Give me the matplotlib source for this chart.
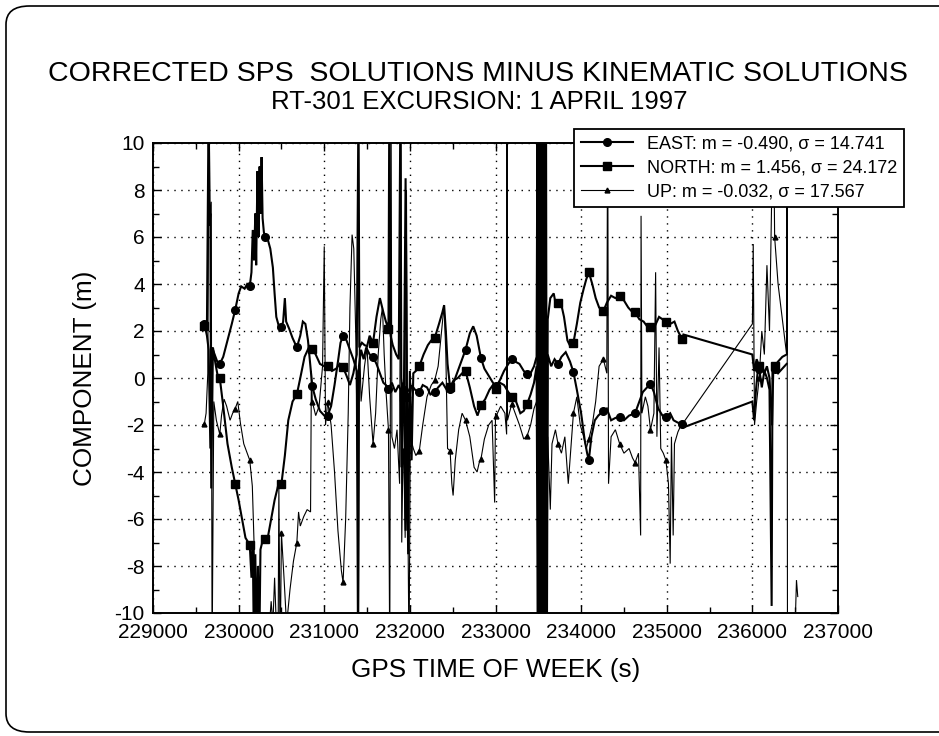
import numpy as np
import matplotlib
matplotlib.use("Agg")
import matplotlib.pyplot as plt
from matplotlib.patches import FancyBboxPatch
from matplotlib.ticker import MultipleLocator

plt.rcParams['font.family'] = ['Liberation Sans', 'DejaVu Sans']
plt.rcParams['axes.unicode_minus'] = False

# ---------------- data (GPS time of week [s], component [m]) ----------------
east_pts = [
    (229580, 2.1), (229600, 2.3), (229630, 1.8), (229650, 1.2), (229670, -3.0), (229690, 1.3),
    (229720, 1.0), (229750, 0.7), (229780, 0.6), (229820, 0.9), (229870, 1.6), (229920, 2.3),
    (229960, 2.9), (230000, 3.6), (230030, 3.9), (230070, 3.8), (230100, 4.0), (230130, 3.9),
    (230150, 4.5), (230165, 6.3), (230180, 5.0), (230195, 7.0), (230205, 4.8), (230220, 8.8),
    (230232, 6.0), (230245, 9.0), (230258, 7.0), (230268, 9.4), (230280, 6.8), (230295, 6.2),
    (230310, 6.0), (230340, 5.9), (230370, 5.5), (230400, 4.7), (230420, 3.6), (230440, 2.6),
    (230470, 2.2), (230500, 2.15), (230520, 2.4), (230540, 3.4), (230555, 2.4), (230590, 2.1),
    (230630, 1.7), (230680, 1.3), (230720, 1.8), (230750, 2.4), (230780, 2.3), (230810, 1.6),
    (230840, 0.4), (230860, -0.35), (230900, -0.9), (230950, -1.4), (231000, -1.6), (231040, -1.6),
    (231080, -1.2), (231120, -0.3), (231160, 0.7), (231190, 1.5), (231220, 1.8), (231260, 1.6),
    (231300, 1.2), (231340, 0.8), (231380, 0.3), (231395, -12.0), (231405, 0.5), (231430, 1.2),
    (231460, 0.8), (231490, 1.3), (231530, 1.0), (231570, 0.9), (231610, 0.6), (231650, 0.2),
    (231690, -0.2), (231720, -0.3), (231750, -0.45), (231790, -0.2), (231830, -0.6), (231870, -0.3),
    (231890, -0.5), (231905, -3.8), (231915, -0.2), (231930, -0.5), (231950, -6.5), (231960, -1.0),
    (231980, -7.5), (231995, -0.8), (232020, -0.3), (232060, -0.5), (232110, -0.6), (232150, -0.3),
    (232200, -0.4), (232240, -0.7), (232290, -0.6), (232330, -0.4), (232380, -0.2), (232430, -0.5),
    (232470, -0.45), (232510, -0.2), (232560, 0.3), (232610, 0.8), (232650, 1.2), (232700, 1.9),
    (232740, 2.2), (232780, 1.8), (232830, 0.85), (232870, 0.4), (232920, 0.1), (232970, -0.2),
    (233010, -0.35), (233050, -0.1), (233100, 0.3), (233150, 0.6), (233190, 0.8), (233230, 0.7),
    (233280, 0.6), (233330, 0.3), (233370, 0.17), (233410, 0.2), (233450, 0.5), (233480, 0.9),
    (233490, 12), (233500, -12), (233510, 12), (233520, -12), (233530, 12), (233540, -12),
    (233550, 12), (233560, -12), (233570, 12), (233580, -12), (233590, 12), (233600, -12),
    (233610, 1.0), (233650, 0.5), (233690, 0.8), (233730, 0.6), (233770, 0.9), (233820, 1.1),
    (233870, 0.7), (233910, 0.25), (233950, -0.5), (234000, -1.5), (234040, -2.6), (234070, -3.2),
    (234090, -3.5), (234120, -2.5), (234160, -1.8), (234200, -1.6), (234230, -1.5), (234260, -1.4),
    (234300, -1.3), (234350, -1.8), (234400, -1.7), (234450, -1.65), (234500, -1.8), (234560, -1.6),
    (234630, -1.5), (234680, -1.0), (234720, -0.6), (234770, -0.4), (234810, -0.25), (234850, -0.6),
    (234900, -1.3), (234950, -1.6), (234990, -1.65), (235040, -1.5), (235080, -1.8), (235130, -1.9),
    (235180, -1.95), (235195, -2.1), (236000, -1.0), (236020, -1.8), (236040, -0.6), (236060, 0.2),
    (236080, 0.4), (236110, -0.4), (236140, 0.3), (236170, 0.0), (236200, -0.5), (236225, -9.7),
    (236235, 0.5), (236260, 0.4), (236300, 0.2), (236350, 0.4), (236400, 0.6),
]

north_pts = [
    (229580, 2.1), (229600, 2.2), (229630, 2.3), (229650, 12), (229660, 6.5), (229670, 7.0),
    (229680, -4.7), (229700, 1.3), (229730, 0.6), (229760, 0.0), (229780, 0.0), (229820, -1.2),
    (229870, -2.8), (229920, -3.8), (229960, -4.5), (230000, -5.2), (230040, -6.0), (230080, -6.8),
    (230130, -7.1), (230150, -8.5), (230165, -7.0), (230180, -12), (230195, -7.5), (230210, -12),
    (230225, -8.0), (230240, -12), (230255, -7.3), (230275, -7.0), (230310, -6.85), (230340, -6.8),
    (230380, -6.0), (230420, -5.2), (230460, -4.6), (230500, -4.5), (230540, -3.3), (230580, -1.8),
    (230630, -1.0), (230680, -0.7), (230720, 0.0), (230770, 0.9), (230820, 1.3), (230860, 1.25),
    (230900, 1.0), (230950, 0.6), (231000, 0.5), (231040, 0.5), (231090, 0.3), (231140, 0.4),
    (231180, 0.6), (231220, 0.45), (231260, 0.1), (231300, -0.3), (231340, 0.2), (231380, 1.0),
    (231400, 12), (231410, 1.3), (231440, 1.5), (231470, 1.4), (231500, 1.35), (231530, 1.8),
    (231570, 1.5), (231610, 2.6), (231650, 3.4), (231690, 2.8), (231720, 2.4), (231750, 2.1),
    (231760, 12), (231775, 1.8), (231800, 1.4), (231840, 1.0), (231870, 0.8), (231890, 12),
    (231900, 0.0), (231920, -1.0), (231930, -0.8), (231950, 8.5), (231965, -0.5), (231985, -4.0),
    (232000, 0.3), (232020, -3.5), (232040, 0.2), (232070, 0.3), (232110, 0.5), (232160, 1.0),
    (232210, 1.4), (232250, 1.6), (232290, 1.7), (232340, 2.3), (232380, 2.8), (232400, 3.1),
    (232420, 2.0), (232440, 0.6), (232470, -0.4), (232510, -0.1), (232560, 0.0), (232610, 0.2),
    (232650, 0.3), (232700, -0.4), (232750, -1.2), (232790, -1.6), (232830, -1.15), (232880, -0.9),
    (232930, -0.5), (232970, -0.3), (233010, -0.45), (233050, -0.2), (233100, -0.3), (233150, -0.6),
    (233190, -0.8), (233240, -1.0), (233290, -1.5), (233330, -1.4), (233370, -1.1), (233410, -0.7),
    (233450, -0.2), (233480, 0.5), (233495, -12), (233505, 12), (233515, -12), (233525, 12),
    (233535, -12), (233545, 12), (233555, -12), (233565, 12), (233575, -12), (233585, 12),
    (233595, -12), (233610, 2.5), (233640, 3.4), (233680, 3.6), (233710, 3.0), (233730, 3.2),
    (233770, 3.1), (233800, 2.6), (233840, 1.6), (233880, 1.3), (233910, 1.5), (233950, 2.3),
    (233990, 3.2), (234030, 3.8), (234060, 4.2), (234090, 4.5), (234130, 4.0), (234170, 3.4),
    (234210, 3.0), (234260, 2.85), (234300, 3.2), (234350, 3.5), (234400, 3.4), (234450, 3.5),
    (234500, 3.3), (234550, 3.0), (234600, 2.8), (234630, 2.8), (234680, 2.5), (234730, 2.4),
    (234770, 2.2), (234810, 2.15), (234860, 2.2), (234910, 2.6), (234950, 2.5), (234990, 2.4),
    (235040, 2.3), (235090, 2.4), (235130, 2.0), (235180, 1.65), (235195, 1.85), (236000, 1.0),
    (236020, 0.3), (236050, 0.8), (236080, 0.5), (236110, 0.6), (236140, 0.2), (236170, 0.5),
    (236200, 0.0), (236230, -2.0), (236245, 0.5), (236260, 0.5), (236300, 0.7), (236350, 0.9),
    (236400, 1.0),
]

up_pts = [
    (229580, -2.0), (229600, -1.95), (229620, -1.5), (229640, 0.2), (229655, 12), (229665, 6.8),
    (229680, 7.5), (229690, -12), (229710, -1.0), (229740, -1.8), (229780, -2.4), (229800, -1.6),
    (229830, -0.9), (229860, -1.2), (229900, -1.8), (229930, -1.5), (229960, -1.3), (229990, -1.0),
    (230020, -1.9), (230060, -2.8), (230100, -3.2), (230130, -3.5), (230160, -4.6), (230180, -7.0),
    (230200, -10.5), (230220, -8.5), (230240, -12), (230260, -11), (230300, -12), (230310, -12),
    (230350, -11), (230380, -9.5), (230400, -10.5), (230420, -8.5), (230440, -10.5), (230460, -12),
    (230470, -4.6), (230485, -12), (230500, -6.6), (230530, -8.5), (230560, -10.5), (230600, -9.0),
    (230640, -7.8), (230680, -7.0), (230700, -5.7), (230720, -6.3), (230760, -5.9), (230800, -5.6),
    (230840, -5.7), (230850, 0.3), (230860, -1.0), (230900, -1.6), (230940, -1.2), (230980, 0.5),
    (231000, 5.6), (231015, -2.0), (231040, -1.0), (231080, -2.0), (231120, -4.0), (231160, -6.5),
    (231200, -8.2), (231220, -8.7), (231250, -6.0), (231280, -1.5), (231300, 3.0), (231325, 6.1),
    (231345, 5.5), (231370, 1.5), (231390, -4.5), (231398, -12), (231410, 2.0), (231430, -1.0),
    (231470, 0.5), (231500, 1.3), (231530, -0.8), (231570, -2.8), (231600, -1.5), (231630, 1.0),
    (231660, 2.5), (231680, 3.0), (231700, 1.0), (231720, -0.5), (231750, -2.2), (231765, -12),
    (231780, 12), (231790, -2.5), (231820, -3.0), (231850, -2.2), (231880, -4.5), (231895, 12),
    (231905, -7.0), (231920, -3.0), (231930, -3.5), (231945, -6.8), (231960, 8.0), (231975, -5.0),
    (231990, -12), (232005, -2.5), (232040, -3.0), (232070, -3.3), (232110, -3.1), (232150, -2.0),
    (232200, -0.8), (232250, -0.3), (232290, -0.1), (232330, 0.5), (232370, 2.0), (232400, 3.1),
    (232420, 1.0), (232440, -3.0), (232470, -3.1), (232490, -4.5), (232505, -5.0), (232530, -3.5),
    (232570, -2.2), (232610, -1.5), (232650, -1.8), (232700, -2.5), (232750, -3.8), (232785, -4.0),
    (232810, -3.6), (232830, -3.45), (232870, -2.6), (232920, -2.0), (232960, -1.8), (232990, -5.3),
    (233000, -1.5), (233010, -1.6), (233060, -1.2), (233110, -1.5), (233130, -2.4), (233135, 12),
    (233140, -1.8), (233190, -1.1), (233230, -1.5), (233280, -2.0), (233330, -2.6), (233370, -2.45),
    (233410, -2.0), (233450, -1.3), (233480, -1.0), (233500, 12), (233590, -12), (233610, -2.5),
    (233640, -5.6), (233660, -2.8), (233700, -2.2), (233730, -2.8), (233770, -3.2), (233810, -2.5),
    (233850, -4.5), (233880, -3.0), (233910, -1.5), (233950, -0.8), (233990, -2.0), (234030, -2.5),
    (234060, -3.0), (234090, -2.6), (234130, -2.0), (234170, -1.0), (234210, 0.5), (234260, 0.8),
    (234300, 0.2), (234310, 12), (234320, -4.5), (234350, -2.5), (234400, -2.2), (234450, -2.8),
    (234500, -3.2), (234560, -3.0), (234600, -3.4), (234630, -3.6), (234670, -3.2), (234695, -6.7),
    (234700, 6.9), (234710, -1.5), (234750, -0.8), (234780, -1.2), (234810, -2.2), (234850, -1.5),
    (234870, 4.5), (234885, -2.5), (234910, 1.3), (234930, -3.0), (234960, -3.2), (234990, -3.5),
    (235020, -4.5), (235040, -7.9), (235055, -2.5), (235075, -6.7), (235090, -2.8), (235130, -2.3),
    (235180, -1.9), (235195, -1.9), (236000, 2.3), (236010, 5.7), (236025, -2.0), (236050, -1.0),
    (236080, 0.0), (236110, 2.0), (236140, 1.0), (236170, 4.8), (236200, 2.0), (236245, 12),
    (236260, 6.0), (236300, 4.0), (236350, 2.5), (236400, 1.0), (236405, 12), (236410, -12),
    (236500, -10.5), (236515, -8.6), (236530, -9.3),
]

# epochs at which the plotting program drew a symbol
mark_t = [229600, 229780, 229960, 230130, 230310, 230500, 230680, 230860, 231040, 231220,
          231570, 231750, 231930, 232110, 232290, 232470, 232650, 232830, 233010, 233190,
          233370, 233730, 233910, 234090, 234260, 234450, 234630, 234810, 234990, 235180,
          236080, 236260]

labels = ["EAST: m = -0.490, \u03c3 = 14.741",
          "NORTH: m = 1.456, \u03c3 = 24.172",
          "UP: m = -0.032, \u03c3 = 17.567"]

x_ticks = [229000, 230000, 231000, 232000, 233000, 234000, 235000, 236000, 237000]
y_ticks = [-10, -8, -6, -4, -2, 0, 2, 4, 6, 8, 10]

# ---------------- figure ----------------
W, H = 939, 736
fig = plt.figure(figsize=(W / 100, H / 100), dpi=100)

# rounded page border
border = FancyBboxPatch((6 / W, 4 / H), 960 / W, (H - 10) / H,
                        boxstyle="round,pad=0,rounding_size=0.025",
                        transform=fig.transFigure, fill=False, edgecolor='black',
                        linewidth=1.2, clip_on=False)
fig.patches.append(border)

ax = fig.add_axes([153 / W, 1 - 613 / H, 685 / W, 470 / H])

styles = [
    (east_pts, 'o', 5.5, 1.5),
    (north_pts, 's', 5.5, 1.5),
    (up_pts, '^', 3.5, 0.8),
]
for (pts, mk, ms, lw), lab in zip(styles, labels):
    arr = np.array(pts, dtype=float)
    t, v = arr[:, 0], arr[:, 1]
    ax.plot(t, v, color='black', lw=lw, marker=mk, ms=ms,
            markevery=np.isin(t, mark_t), mfc='black', mec='black', label=lab,
            solid_joinstyle='miter')

ax.set_xlim(229000, 237000)
ax.set_ylim(-10, 10)
ax.set_xticks(x_ticks)
ax.set_xticklabels([str(x) for x in x_ticks])
ax.set_yticks(y_ticks)
ax.set_yticklabels([str(y) for y in y_ticks])
ax.xaxis.set_minor_locator(MultipleLocator(500))
ax.yaxis.set_minor_locator(MultipleLocator(1))
ax.tick_params(which='both', direction='in', top=True, right=True, width=1.0, colors='black')
ax.tick_params(which='major', length=6, labelsize=15)
ax.tick_params(which='minor', length=4)
ax.tick_params(axis='x', pad=7)
ax.tick_params(axis='y', pad=6)
ax.grid(True, which='major', color='black', linestyle=(0, (1, 4)), linewidth=1.0)
for s in ax.spines.values():
    s.set_linewidth(1.4)

fig.text(478 / W, 1 - 81 / H, "CORRECTED SPS  SOLUTIONS MINUS KINEMATIC SOLUTIONS",
         ha='center', va='baseline', fontsize=20.5)
fig.text(479 / W, 1 - 109 / H, "RT-301 EXCURSION: 1 APRIL 1997",
         ha='center', va='baseline', fontsize=18.5)
fig.text(495.5 / W, 1 - 677 / H, "GPS TIME OF WEEK (s)", ha='center', va='baseline', fontsize=18.8)
fig.text(85 / W, 1 - 378 / H, "COMPONENT (m)", ha='center', va='center', rotation=90, fontsize=18.8)

leg = ax.legend(loc='upper right', bbox_to_anchor=(904 / W, 1 - 129 / H),
                bbox_transform=fig.transFigure, borderaxespad=0, fontsize=13,
                frameon=True, fancybox=False, framealpha=1, edgecolor='black',
                handlelength=2.9, handletextpad=0.8, labelspacing=0.4, borderpad=0.35,
                numpoints=1)
leg.get_frame().set_linewidth(1.3)
leg.set_zorder(10)

fig.savefig("out.png", dpi=100)
